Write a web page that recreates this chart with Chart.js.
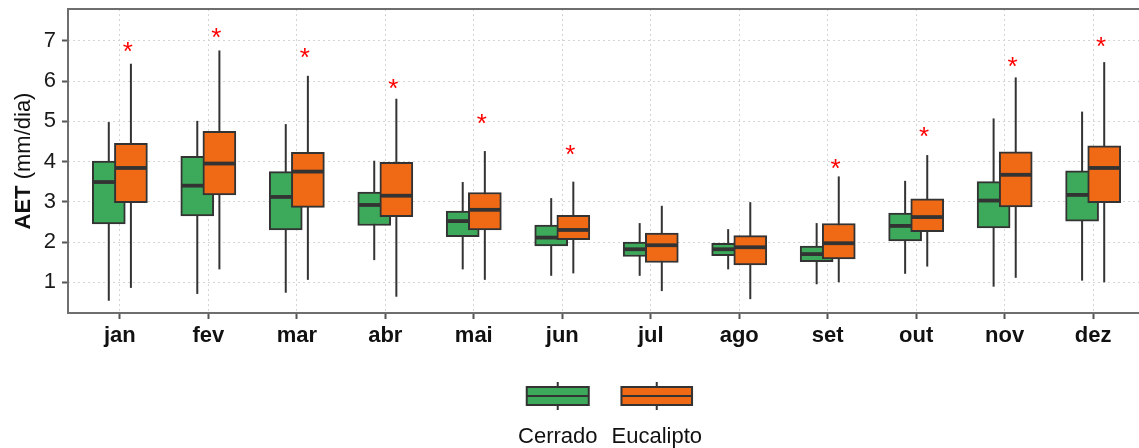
<!DOCTYPE html>
<html>
<head>
<meta charset="utf-8">
<script src="https://cdn.jsdelivr.net/npm/chart.js@4"></script>
<style>
html, body { margin: 0; padding: 0; background: #fff; overflow: hidden; }
#wrap { width: 1145px; height: 448px; }
</style>
</head>
<body>
<div id="wrap"><canvas id="aet_plot_canvas"></canvas></div>
<script>
const months = ['jan', 'fev', 'mar', 'abr', 'mai', 'jun', 'jul', 'ago', 'set', 'out', 'nov', 'dez'];
const yTicks = [1, 2, 3, 4, 5, 6, 7];

// Cerrado
const cerradoMin = [0.54, 0.71, 0.74, 1.55, 1.32, 1.16, 1.16, 1.32, 0.95, 1.21, 0.89, 1.04];
const cerradoQ1  = [2.45, 2.65, 2.30, 2.41, 2.13, 1.90, 1.64, 1.66, 1.51, 2.03, 2.35, 2.52];
const cerradoMed = [3.49, 3.40, 3.12, 2.92, 2.52, 2.11, 1.82, 1.82, 1.70, 2.40, 3.03, 3.17];
const cerradoQ3  = [4.01, 4.13, 3.75, 3.24, 2.77, 2.42, 2.00, 1.97, 1.90, 2.72, 3.50, 3.77];
const cerradoMax = [4.98, 5.01, 4.93, 4.02, 3.49, 3.09, 2.47, 2.32, 2.47, 3.52, 5.07, 5.24];

// Eucalipto
const eucaMin = [0.86, 1.32, 1.06, 0.64, 1.06, 1.22, 0.78, 0.58, 1.00, 1.39, 1.11, 1.00];
const eucaQ1  = [2.98, 3.17, 2.86, 2.63, 2.30, 2.06, 1.49, 1.43, 1.58, 2.26, 2.87, 2.98];
const eucaMed = [3.84, 3.95, 3.75, 3.15, 2.80, 2.30, 1.92, 1.87, 1.97, 2.62, 3.67, 3.84];
const eucaQ3  = [4.45, 4.75, 4.23, 3.98, 3.23, 2.66, 2.22, 2.16, 2.46, 3.07, 4.24, 4.39];
const eucaMax = [6.43, 6.76, 6.13, 5.56, 4.26, 3.50, 2.90, 2.99, 3.63, 4.16, 6.09, 6.47];

// asterisco de significancia (null = sem marca)
const starY = [6.88, 7.23, 6.74, 5.97, 5.10, 4.33, null, null, 3.99, 4.79, 6.52, 7.02];

const green = '#3CAA5A';
const orange = '#F06A15';
const lineCol = '#333333';
const fontFamily = '"Liberation Sans", Arial, Helvetica, sans-serif';
const dodge = 0.125;

const boxStats = {
    id: 'boxStats',
    beforeDatasetDraw(chart, args) {
        const ds = chart.data.datasets[args.index];
        const y = chart.scales.y;
        const ctx = chart.ctx;
        ctx.save();
        ctx.strokeStyle = lineCol;
        ctx.lineWidth = 2;
        args.meta.data.forEach((bar, i) => {
            ctx.beginPath();
            ctx.moveTo(bar.x, y.getPixelForValue(ds.whiskerMin[i]));
            ctx.lineTo(bar.x, y.getPixelForValue(ds.whiskerMax[i]));
            ctx.stroke();
        });
        ctx.restore();
    },
    afterDatasetDraw(chart, args) {
        const ds = chart.data.datasets[args.index];
        const y = chart.scales.y;
        const ctx = chart.ctx;
        ctx.save();
        ctx.strokeStyle = lineCol;
        ctx.lineWidth = 3.8;
        args.meta.data.forEach((bar, i) => {
            const py = y.getPixelForValue(ds.median[i]);
            ctx.beginPath();
            ctx.moveTo(bar.x - bar.width / 2 + 1, py);
            ctx.lineTo(bar.x + bar.width / 2 - 1, py);
            ctx.stroke();
        });
        ctx.restore();
    },
    afterDatasetsDraw(chart) {
        const ctx = chart.ctx;
        const {x, y} = chart.scales;
        const area = chart.chartArea;
        ctx.save();
        // asteriscos
        ctx.fillStyle = '#FF0000';
        ctx.font = '26px ' + fontFamily;
        ctx.textAlign = 'center';
        ctx.textBaseline = 'alphabetic';
        starY.forEach((v, i) => {
            if (v === null) return;
            ctx.fillText('*', x.getPixelForValue(i + 0.09), y.getPixelForValue(v) + 26 * 0.57);
        });
        // moldura do painel
        ctx.strokeStyle = '#6e6e6e';
        ctx.lineWidth = 2;
        ctx.strokeRect(area.left, area.top, area.right - area.left, area.bottom - area.top);
        ctx.restore();
    },
    afterDraw(chart) {
        const ctx = chart.ctx;
        const area = chart.chartArea;
        ctx.save();
        // titulo do eixo y
        ctx.translate(30, (area.top + area.bottom) / 2);
        ctx.rotate(-Math.PI / 2);
        ctx.fillStyle = '#111';
        ctx.textBaseline = 'alphabetic';
        ctx.textAlign = 'left';
        ctx.font = 'bold 22px ' + fontFamily;
        const w1 = ctx.measureText('AET').width;
        ctx.font = '22px ' + fontFamily;
        const w2 = ctx.measureText(' (mm/dia)').width;
        let start = -(w1 + w2) / 2;
        ctx.font = 'bold 22px ' + fontFamily;
        ctx.fillText('AET', start, 0);
        ctx.font = '22px ' + fontFamily;
        ctx.fillText(' (mm/dia)', start + w1, 0);
        ctx.restore();

        // legenda
        ctx.save();
        ctx.font = '22px ' + fontFamily;
        const items = chart.data.datasets.map(ds => ({label: ds.label, color: ds.backgroundColor, w: ctx.measureText(ds.label).width}));
        const gap = 14;
        const total = items.reduce((s, it) => s + it.w, 0) + gap * (items.length - 1);
        let lx = 610 - total / 2;
        items.forEach(it => {
            const cx = lx + it.w / 2;
            const kw = it.w * 0.78;
            const top = 387, bot = 405;
            ctx.strokeStyle = lineCol;
            ctx.lineWidth = 2;
            ctx.beginPath();
            ctx.moveTo(cx, top - 5); ctx.lineTo(cx, top);
            ctx.moveTo(cx, bot); ctx.lineTo(cx, bot + 5);
            ctx.stroke();
            ctx.fillStyle = it.color;
            ctx.fillRect(cx - kw / 2, top, kw, bot - top);
            ctx.strokeRect(cx - kw / 2, top, kw, bot - top);
            ctx.beginPath();
            ctx.moveTo(cx - kw / 2, (top + bot) / 2);
            ctx.lineTo(cx + kw / 2, (top + bot) / 2);
            ctx.stroke();
            ctx.fillStyle = '#111';
            ctx.textAlign = 'center';
            ctx.textBaseline = 'alphabetic';
            ctx.fillText(it.label, cx, 443);
            lx += it.w + gap;
        });
        ctx.restore();
    }
};

const aetPlot = document.getElementById('aet_plot_canvas');
const aetChart = new Chart(aetPlot, {
    type: 'bar',
    data: {
        datasets: [{
            label: 'Cerrado',
            data: months.map((m, i) => ({x: i - dodge, y: [cerradoQ1[i], cerradoQ3[i]]})),
            whiskerMin: cerradoMin,
            whiskerMax: cerradoMax,
            median: cerradoMed,
            backgroundColor: green,
            borderColor: lineCol,
            borderWidth: 2,
            borderSkipped: false,
            barThickness: 33,
            grouped: false,
            order: 1
        }, {
            label: 'Eucalipto',
            data: months.map((m, i) => ({x: i + dodge, y: [eucaQ1[i], eucaQ3[i]]})),
            whiskerMin: eucaMin,
            whiskerMax: eucaMax,
            median: eucaMed,
            backgroundColor: orange,
            borderColor: lineCol,
            borderWidth: 2,
            borderSkipped: false,
            barThickness: 33,
            grouped: false,
            order: 0
        }]
    },
    options: {
        responsive: true,
        maintainAspectRatio: false,
        animation: false,
        layout: {
            padding: {top: 9, left: 0, right: 0, bottom: 0}
        },
        scales: {
            x: {
                type: 'linear',
                min: -0.586,
                max: 11.586,
                offset: false,
                afterBuildTicks: function(scale) {
                    scale.ticks = months.map((m, i) => ({value: i}));
                },
                afterFit: function(scale) {
                    scale.height = 135;
                    scale.paddingLeft = 0;
                    scale.paddingRight = 0;
                },
                grid: {
                    offset: false,
                    color: '#d4d4d4',
                    lineWidth: 1,
                    tickLength: 6,
                    tickColor: '#555',
                    tickWidth: 2,
                    tickBorderDash: []
                },
                border: {
                    display: false,
                    dash: [2, 3]
                },
                ticks: {
                    padding: 4,
                    color: '#111',
                    maxRotation: 0,
                    autoSkip: false,
                    font: {family: fontFamily, size: 22, weight: 'bold'},
                    callback: function(value) {
                        return months[value];
                    }
                }
            },
            y: {
                min: 0.236,
                max: 7.79,
                afterBuildTicks: function(scale) {
                    scale.ticks = yTicks.map(v => ({value: v}));
                },
                afterFit: function(scale) {
                    scale.width = 68;
                    scale.paddingTop = 0;
                    scale.paddingBottom = 0;
                },
                grid: {
                    color: '#d4d4d4',
                    lineWidth: 1,
                    tickLength: 6,
                    tickColor: '#555',
                    tickWidth: 2,
                    tickBorderDash: []
                },
                border: {
                    display: false,
                    dash: [2, 3]
                },
                ticks: {
                    padding: 6,
                    color: '#1a1a1a',
                    font: {family: fontFamily, size: 22}
                }
            }
        },
        plugins: {
            legend: {display: false},
            tooltip: {enabled: false}
        }
    },
    plugins: [boxStats]
});
</script>
</body>
</html>
